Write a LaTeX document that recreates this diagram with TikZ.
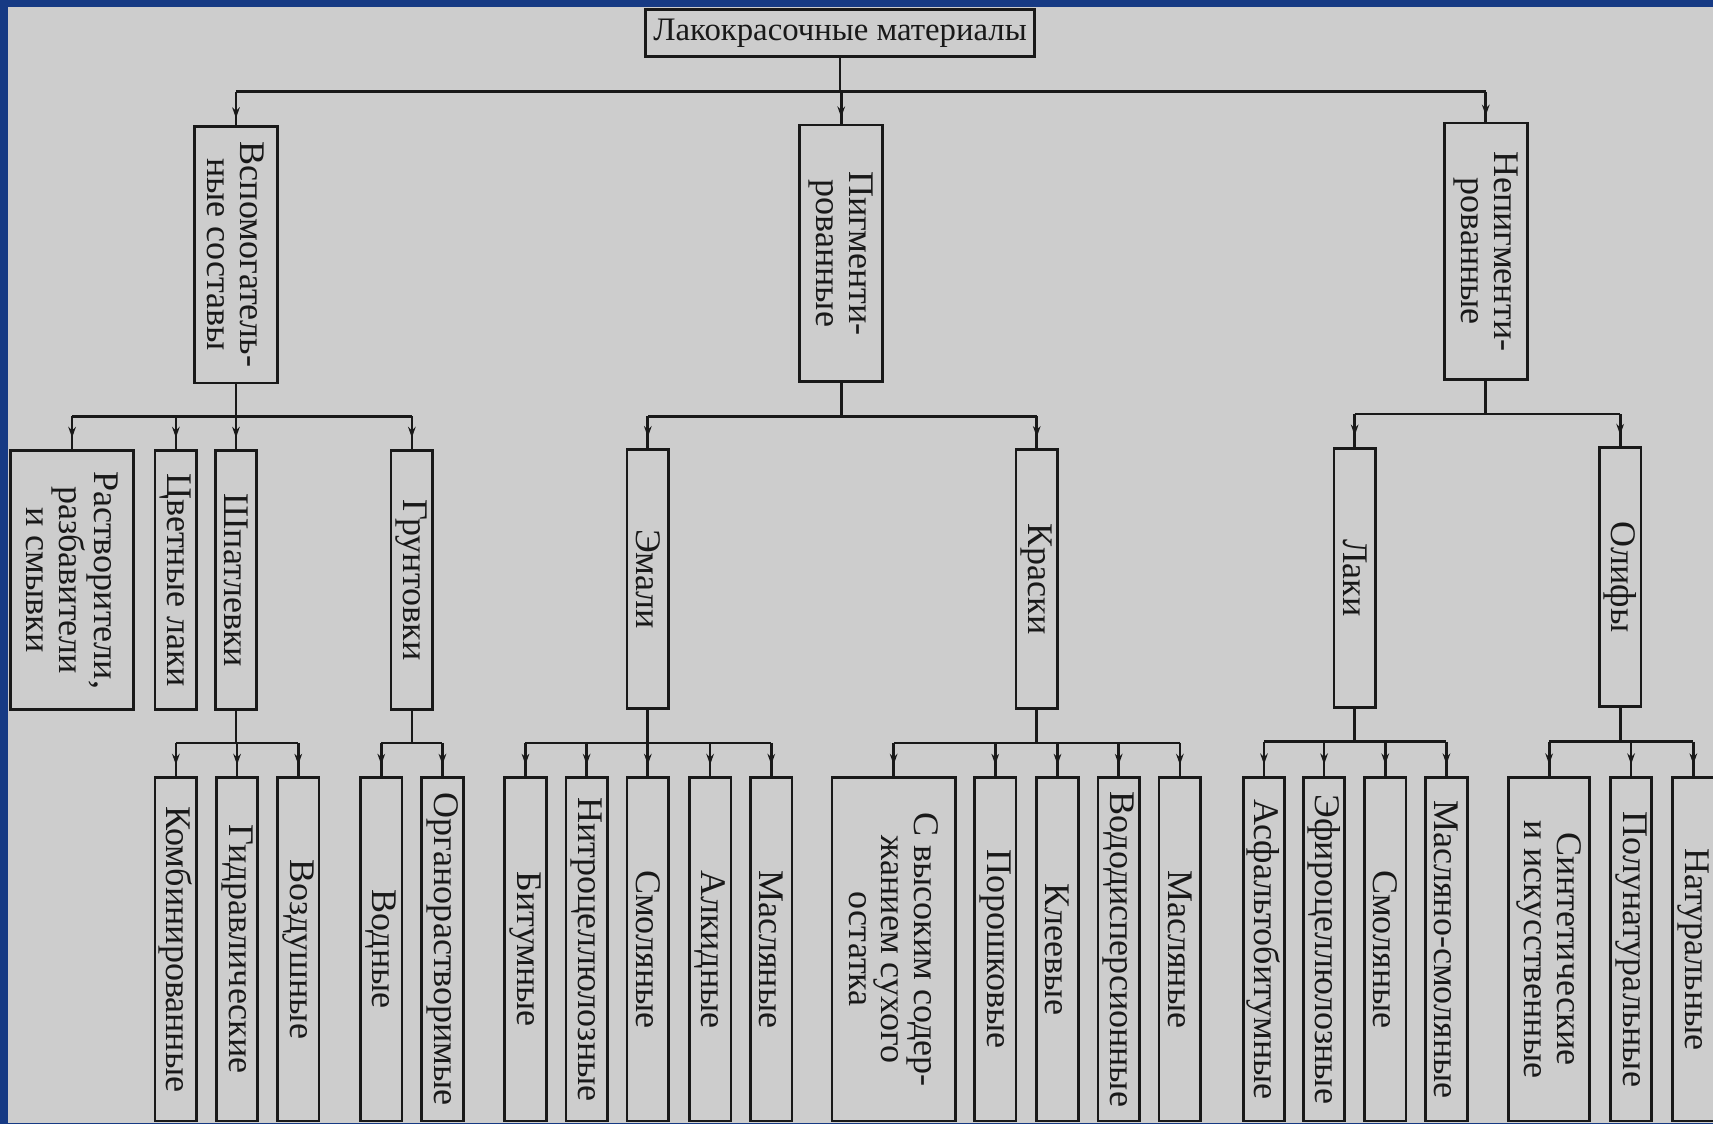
\documentclass[tikz,border=0pt]{standalone}
\usepackage{fontspec}
\setmainfont{Liberation Serif}
\usetikzlibrary{arrows.meta,decorations.markings}

\definecolor{fon}{RGB}{205,205,205}
\definecolor{ramka}{RGB}{22,58,132}
\definecolor{ramkasvet}{RGB}{52,92,168}
\definecolor{linia}{RGB}{25,25,25}

\begin{document}
        \begin{tikzpicture}[x=1pt, y=-1pt,
            box/.style={draw=linia, line width=2.5pt, fill=fon, inner sep=1pt, text=linia,
                font=\fontsize{33}{30}\selectfont, align=center},
            % повернутые блоки: west -- верх, east -- низ
            vbox/.style={box, rotate=-90},
            lvlA/.style={vbox, minimum width=235, minimum height=76},
            lvlB/.style={vbox, minimum width=237, minimum height=38},
            lvlC/.style={vbox, minimum width=314, minimum height=38},
            link/.style={draw=linia, line width=2.5pt},
            stub/.style={link, postaction={decorate}, decoration={markings,
                mark=at position #1 with {\arrow{Stealth[length=10pt, width=7pt]}}}},
            stub/.default=0.65]
            % фон
            \shade [left color=ramka, middle color=ramkasvet, right color=ramka] ( 0, 0 ) rectangle ( 1568, 1028 );
            \fill [fon] ( 7, 6 ) rectangle ( 1568, 1028 );
            \useasboundingbox ( 0, 0 ) rectangle ( 1568, 1028 );

            % корень
            \node [box, minimum width=356, minimum height=43, font=\fontsize{30}{30}\selectfont] (lkm) at ( 769, 30 ) {Лакокрасочные материалы};

            % первый уровень
            \node [lvlA] (vs) at ( 216, 233 ) {Вспомогатель-\\ные составы};
            \node [lvlA] (pg) at ( 770, 232 ) {Пигменти-\\рованные};
            \node [lvlA] (ng) at ( 1360, 230 ) {Непигменти-\\рованные};

            % второй уровень
            \node [lvlB, minimum height=113] (rs) at ( 66, 531 ) {Растворители,\\разбавители\\и смывки};
            \node [lvlB] (cl) at ( 161, 531 ) {Цветные лаки};
            \node [lvlB] (sp) at ( 216, 531 ) {Шпатлевки};
            \node [lvlB] (gr) at ( 377, 531 ) {Грунтовки};
            \node [lvlB] (em) at ( 593, 530 ) {Эмали};
            \node [lvlB] (kr) at ( 949, 530 ) {Краски};
            \node [lvlB] (lk) at ( 1240, 529 ) {Лаки};
            \node [lvlB] (ol) at ( 1483, 528 ) {Олифы};

            % третий уровень
            \node [lvlC] (km) at ( 161, 869 ) {Комбинированные};
            \node [lvlC] (gd) at ( 217, 869 ) {Гидравлические};
            \node [lvlC] (vz) at ( 273, 869 ) {Воздушные};
            \node [lvlC] (vd) at ( 349, 869 ) {Водные};
            \node [lvlC] (org) at ( 405, 869 ) {Органорастворимые};
            \node [lvlC] (bt) at ( 481, 869 ) {Битумные};
            \node [lvlC] (nc) at ( 537, 869 ) {Нитроцеллюлозные};
            \node [lvlC] (smE) at ( 593, 869 ) {Смоляные};
            \node [lvlC] (al) at ( 650, 869 ) {Алкидные};
            \node [lvlC] (msE) at ( 706, 869 ) {Масляные};
            \node [lvlC, minimum height=113] (sv) at ( 818, 869 ) {С высоким содер-\\жанием сухого\\остатка};
            \node [lvlC] (pr) at ( 911, 869 ) {Порошковые};
            \node [lvlC] (kl) at ( 968, 869 ) {Клеевые};
            \node [lvlC] (vdK) at ( 1024, 869 ) {Вододисперсионные};
            \node [lvlC] (msK) at ( 1080, 869 ) {Масляные};
            \node [lvlC] (af) at ( 1157, 869 ) {Асфальтобитумные};
            \node [lvlC] (ef) at ( 1212, 869 ) {Эфироцеллюлозные};
            \node [lvlC] (smL) at ( 1268, 869 ) {Смоляные};
            \node [lvlC] (mc) at ( 1324, 869 ) {Масляно-смоляные};
            \node [lvlC, minimum height=74] (si) at ( 1418, 869 ) {Синтетические\\и искусственные};
            \node [lvlC] (pn) at ( 1493, 869 ) {Полунатуральные};
            \node [lvlC] (nt) at ( 1550, 869 ) {Натуральные};

            % шины
            \coordinate (b0) at ( 769, 84 );
            \coordinate (b1) at ( 216, 381 );
            \coordinate (b2) at ( 770, 381 );
            \coordinate (b3) at ( 1360, 379 );
            \coordinate (b4) at ( 216, 680 );
            \coordinate (b5) at ( 377, 680 );
            \coordinate (b6) at ( 593, 680 );
            \coordinate (b7) at ( 949, 680 );
            \coordinate (b8) at ( 1240, 679 );
            \coordinate (b9) at ( 1483, 679 );

            % связи: корень
            \draw [link] (lkm.south) -- (lkm.south |- b0) (b0 -| vs.west) -- (b0 -| ng.west);
            \draw [stub=0.8] (b0 -| vs.west) -- (vs.west);
            \draw [stub=0.8] (b0 -| pg.west) -- (pg.west);
            \draw [stub=0.8] (b0 -| ng.west) -- (ng.west);

            % связи: второй уровень
            \draw [link] (vs.east) -- (vs.east |- b1) (b1 -| rs.west) -- (b1 -| gr.west);
            \draw [stub] (b1 -| rs.west) -- (rs.west);
            \draw [stub] (b1 -| cl.west) -- (cl.west);
            \draw [stub] (b1 -| sp.west) -- (sp.west);
            \draw [stub] (b1 -| gr.west) -- (gr.west);
            \draw [link] (pg.east) -- (pg.east |- b2) (b2 -| em.west) -- (b2 -| kr.west);
            \draw [stub] (b2 -| em.west) -- (em.west);
            \draw [stub] (b2 -| kr.west) -- (kr.west);
            \draw [link] (ng.east) -- (ng.east |- b3) (b3 -| lk.west) -- (b3 -| ol.west);
            \draw [stub] (b3 -| lk.west) -- (lk.west);
            \draw [stub] (b3 -| ol.west) -- (ol.west);

            % связи: третий уровень
            \draw [link] (sp.east) -- (sp.east |- b4) (b4 -| km.west) -- (b4 -| vz.west);
            \draw [stub] (b4 -| km.west) -- (km.west);
            \draw [stub] (b4 -| gd.west) -- (gd.west);
            \draw [stub] (b4 -| vz.west) -- (vz.west);
            \draw [link] (gr.east) -- (gr.east |- b5) (b5 -| vd.west) -- (b5 -| org.west);
            \draw [stub] (b5 -| vd.west) -- (vd.west);
            \draw [stub] (b5 -| org.west) -- (org.west);
            \draw [link] (em.east) -- (em.east |- b6) (b6 -| bt.west) -- (b6 -| msE.west);
            \draw [stub] (b6 -| bt.west) -- (bt.west);
            \draw [stub] (b6 -| nc.west) -- (nc.west);
            \draw [stub] (b6 -| smE.west) -- (smE.west);
            \draw [stub] (b6 -| al.west) -- (al.west);
            \draw [stub] (b6 -| msE.west) -- (msE.west);
            \draw [link] (kr.east) -- (kr.east |- b7) (b7 -| sv.west) -- (b7 -| msK.west);
            \draw [stub] (b7 -| sv.west) -- (sv.west);
            \draw [stub] (b7 -| pr.west) -- (pr.west);
            \draw [stub] (b7 -| kl.west) -- (kl.west);
            \draw [stub] (b7 -| vdK.west) -- (vdK.west);
            \draw [stub] (b7 -| msK.west) -- (msK.west);
            \draw [link] (lk.east) -- (lk.east |- b8) (b8 -| af.west) -- (b8 -| mc.west);
            \draw [stub] (b8 -| af.west) -- (af.west);
            \draw [stub] (b8 -| ef.west) -- (ef.west);
            \draw [stub] (b8 -| smL.west) -- (smL.west);
            \draw [stub] (b8 -| mc.west) -- (mc.west);
            \draw [link] (ol.east) -- (ol.east |- b9) (b9 -| si.west) -- (b9 -| nt.west);
            \draw [stub] (b9 -| si.west) -- (si.west);
            \draw [stub] (b9 -| pn.west) -- (pn.west);
            \draw [stub] (b9 -| nt.west) -- (nt.west);
        \end{tikzpicture}
\end{document}
